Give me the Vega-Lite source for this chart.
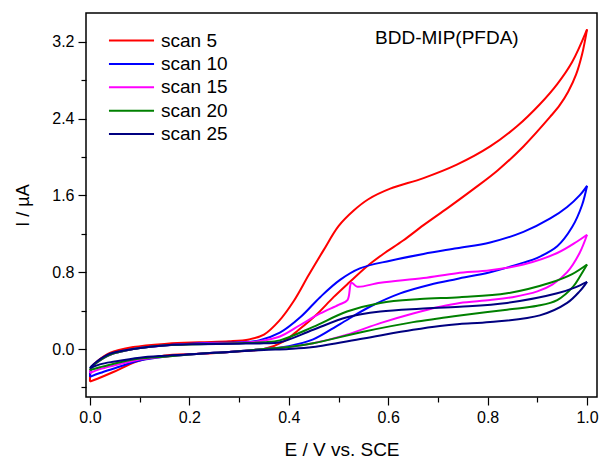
{
  "$schema": "https://vega.github.io/schema/vega-lite/v6.json",
  "width": 511,
  "height": 384,
  "autosize": {"type": "none"},
  "padding": {"left": 86, "top": 13, "right": 5, "bottom": 62},
  "background": "white",
  "config": {
    "view": {"stroke": "black", "strokeWidth": 1.5},
    "font": "Liberation Sans",
    "axis": {
      "grid": false,
      "domain": false,
      "tickColor": "black",
      "tickWidth": 1.2,
      "labelColor": "black",
      "titleColor": "black",
      "labelFont": "Liberation Sans",
      "titleFont": "Liberation Sans",
      "labelFontSize": 16,
      "titleFontSize": 18,
      "titleFontWeight": "normal",
      "labelPadding": 4
    },
    "legend": {
      "orient": "none",
      "legendX": 36,
      "legendY": 18,
      "symbolType": "M-4,0H4",
      "symbolSize": 127,
      "symbolStrokeWidth": 2,
      "labelFont": "Liberation Sans",
      "labelFontSize": 19,
      "labelColor": "black",
      "labelOffset": 20,
      "rowPadding": 3.4,
      "title": null
    }
  },
  "datasets": {
    "cv": [
      {"s":"scan 5","b":"f","i":0,"E":0.0,"I":-0.34},
      {"s":"scan 5","b":"f","i":1,"E":0.003,"I":-0.19},
      {"s":"scan 5","b":"f","i":2,"E":0.014,"I":-0.13},
      {"s":"scan 5","b":"f","i":3,"E":0.04,"I":-0.04},
      {"s":"scan 5","b":"f","i":4,"E":0.087,"I":0.02},
      {"s":"scan 5","b":"f","i":5,"E":0.155,"I":0.055},
      {"s":"scan 5","b":"f","i":6,"E":0.22,"I":0.07},
      {"s":"scan 5","b":"f","i":7,"E":0.28,"I":0.08},
      {"s":"scan 5","b":"f","i":8,"E":0.32,"I":0.1},
      {"s":"scan 5","b":"f","i":9,"E":0.35,"I":0.15},
      {"s":"scan 5","b":"f","i":10,"E":0.38,"I":0.29},
      {"s":"scan 5","b":"f","i":11,"E":0.41,"I":0.5},
      {"s":"scan 5","b":"f","i":12,"E":0.44,"I":0.77},
      {"s":"scan 5","b":"f","i":13,"E":0.47,"I":1.03},
      {"s":"scan 5","b":"f","i":14,"E":0.5,"I":1.28},
      {"s":"scan 5","b":"f","i":15,"E":0.53,"I":1.44},
      {"s":"scan 5","b":"f","i":16,"E":0.56,"I":1.56},
      {"s":"scan 5","b":"f","i":17,"E":0.604,"I":1.67},
      {"s":"scan 5","b":"f","i":18,"E":0.671,"I":1.78},
      {"s":"scan 5","b":"f","i":19,"E":0.738,"I":1.92},
      {"s":"scan 5","b":"f","i":20,"E":0.805,"I":2.11},
      {"s":"scan 5","b":"f","i":21,"E":0.859,"I":2.32},
      {"s":"scan 5","b":"f","i":22,"E":0.905,"I":2.55},
      {"s":"scan 5","b":"f","i":23,"E":0.94,"I":2.76},
      {"s":"scan 5","b":"f","i":24,"E":0.97,"I":2.99},
      {"s":"scan 5","b":"f","i":25,"E":1.0,"I":3.33},
      {"s":"scan 5","b":"r","i":0,"E":1.0,"I":3.33},
      {"s":"scan 5","b":"r","i":1,"E":0.99,"I":3.07},
      {"s":"scan 5","b":"r","i":2,"E":0.978,"I":2.86},
      {"s":"scan 5","b":"r","i":3,"E":0.962,"I":2.68},
      {"s":"scan 5","b":"r","i":4,"E":0.945,"I":2.54},
      {"s":"scan 5","b":"r","i":5,"E":0.926,"I":2.42},
      {"s":"scan 5","b":"r","i":6,"E":0.872,"I":2.11},
      {"s":"scan 5","b":"r","i":7,"E":0.82,"I":1.86},
      {"s":"scan 5","b":"r","i":8,"E":0.77,"I":1.66},
      {"s":"scan 5","b":"r","i":9,"E":0.72,"I":1.47},
      {"s":"scan 5","b":"r","i":10,"E":0.671,"I":1.29},
      {"s":"scan 5","b":"r","i":11,"E":0.63,"I":1.13},
      {"s":"scan 5","b":"r","i":12,"E":0.59,"I":0.99},
      {"s":"scan 5","b":"r","i":13,"E":0.557,"I":0.86},
      {"s":"scan 5","b":"r","i":14,"E":0.523,"I":0.7},
      {"s":"scan 5","b":"r","i":15,"E":0.49,"I":0.54},
      {"s":"scan 5","b":"r","i":16,"E":0.456,"I":0.36},
      {"s":"scan 5","b":"r","i":17,"E":0.42,"I":0.2},
      {"s":"scan 5","b":"r","i":18,"E":0.39,"I":0.08},
      {"s":"scan 5","b":"r","i":19,"E":0.35,"I":0.0},
      {"s":"scan 5","b":"r","i":20,"E":0.28,"I":-0.03},
      {"s":"scan 5","b":"r","i":21,"E":0.22,"I":-0.05},
      {"s":"scan 5","b":"r","i":22,"E":0.147,"I":-0.07},
      {"s":"scan 5","b":"r","i":23,"E":0.094,"I":-0.13},
      {"s":"scan 5","b":"r","i":24,"E":0.047,"I":-0.24},
      {"s":"scan 5","b":"r","i":25,"E":0.015,"I":-0.31},
      {"s":"scan 5","b":"r","i":26,"E":0.0,"I":-0.34},

      {"s":"scan 10","b":"f","i":0,"E":0.0,"I":-0.29},
      {"s":"scan 10","b":"f","i":1,"E":0.003,"I":-0.2},
      {"s":"scan 10","b":"f","i":2,"E":0.014,"I":-0.14},
      {"s":"scan 10","b":"f","i":3,"E":0.04,"I":-0.06},
      {"s":"scan 10","b":"f","i":4,"E":0.087,"I":0.0},
      {"s":"scan 10","b":"f","i":5,"E":0.155,"I":0.04},
      {"s":"scan 10","b":"f","i":6,"E":0.22,"I":0.06},
      {"s":"scan 10","b":"f","i":7,"E":0.3,"I":0.07},
      {"s":"scan 10","b":"f","i":8,"E":0.34,"I":0.09},
      {"s":"scan 10","b":"f","i":9,"E":0.382,"I":0.17},
      {"s":"scan 10","b":"f","i":10,"E":0.423,"I":0.33},
      {"s":"scan 10","b":"f","i":11,"E":0.463,"I":0.54},
      {"s":"scan 10","b":"f","i":12,"E":0.503,"I":0.72},
      {"s":"scan 10","b":"f","i":13,"E":0.543,"I":0.84},
      {"s":"scan 10","b":"f","i":14,"E":0.604,"I":0.92},
      {"s":"scan 10","b":"f","i":15,"E":0.671,"I":0.99},
      {"s":"scan 10","b":"f","i":16,"E":0.738,"I":1.05},
      {"s":"scan 10","b":"f","i":17,"E":0.805,"I":1.11},
      {"s":"scan 10","b":"f","i":18,"E":0.872,"I":1.22},
      {"s":"scan 10","b":"f","i":19,"E":0.926,"I":1.36},
      {"s":"scan 10","b":"f","i":20,"E":0.96,"I":1.48},
      {"s":"scan 10","b":"f","i":21,"E":0.985,"I":1.6},
      {"s":"scan 10","b":"f","i":22,"E":1.0,"I":1.7},
      {"s":"scan 10","b":"r","i":0,"E":1.0,"I":1.7},
      {"s":"scan 10","b":"r","i":1,"E":0.99,"I":1.5},
      {"s":"scan 10","b":"r","i":2,"E":0.97,"I":1.27},
      {"s":"scan 10","b":"r","i":3,"E":0.94,"I":1.07},
      {"s":"scan 10","b":"r","i":4,"E":0.9,"I":0.95},
      {"s":"scan 10","b":"r","i":5,"E":0.872,"I":0.9},
      {"s":"scan 10","b":"r","i":6,"E":0.805,"I":0.8},
      {"s":"scan 10","b":"r","i":7,"E":0.738,"I":0.73},
      {"s":"scan 10","b":"r","i":8,"E":0.684,"I":0.67},
      {"s":"scan 10","b":"r","i":9,"E":0.624,"I":0.58},
      {"s":"scan 10","b":"r","i":10,"E":0.563,"I":0.44},
      {"s":"scan 10","b":"r","i":11,"E":0.503,"I":0.26},
      {"s":"scan 10","b":"r","i":12,"E":0.449,"I":0.1},
      {"s":"scan 10","b":"r","i":13,"E":0.4,"I":0.03},
      {"s":"scan 10","b":"r","i":14,"E":0.35,"I":0.0},
      {"s":"scan 10","b":"r","i":15,"E":0.28,"I":-0.03},
      {"s":"scan 10","b":"r","i":16,"E":0.22,"I":-0.05},
      {"s":"scan 10","b":"r","i":17,"E":0.15,"I":-0.08},
      {"s":"scan 10","b":"r","i":18,"E":0.1,"I":-0.12},
      {"s":"scan 10","b":"r","i":19,"E":0.05,"I":-0.2},
      {"s":"scan 10","b":"r","i":20,"E":0.02,"I":-0.25},
      {"s":"scan 10","b":"r","i":21,"E":0.0,"I":-0.29},

      {"s":"scan 15","b":"f","i":0,"E":0.0,"I":-0.25},
      {"s":"scan 15","b":"f","i":1,"E":0.003,"I":-0.19},
      {"s":"scan 15","b":"f","i":2,"E":0.014,"I":-0.14},
      {"s":"scan 15","b":"f","i":3,"E":0.04,"I":-0.06},
      {"s":"scan 15","b":"f","i":4,"E":0.087,"I":0.0},
      {"s":"scan 15","b":"f","i":5,"E":0.155,"I":0.04},
      {"s":"scan 15","b":"f","i":6,"E":0.22,"I":0.055},
      {"s":"scan 15","b":"f","i":7,"E":0.3,"I":0.065},
      {"s":"scan 15","b":"f","i":8,"E":0.34,"I":0.08},
      {"s":"scan 15","b":"f","i":9,"E":0.382,"I":0.13},
      {"s":"scan 15","b":"f","i":10,"E":0.423,"I":0.25},
      {"s":"scan 15","b":"f","i":11,"E":0.463,"I":0.37},
      {"s":"scan 15","b":"f","i":12,"E":0.5,"I":0.46},
      {"s":"scan 15","b":"f","i":13,"E":0.518,"I":0.51},
      {"s":"scan 15","b":"f","i":14,"E":0.526,"I":0.69},
      {"s":"scan 15","b":"f","i":15,"E":0.537,"I":0.65},
      {"s":"scan 15","b":"f","i":16,"E":0.584,"I":0.69},
      {"s":"scan 15","b":"f","i":17,"E":0.671,"I":0.74},
      {"s":"scan 15","b":"f","i":18,"E":0.738,"I":0.79},
      {"s":"scan 15","b":"f","i":19,"E":0.805,"I":0.82},
      {"s":"scan 15","b":"f","i":20,"E":0.872,"I":0.88},
      {"s":"scan 15","b":"f","i":21,"E":0.94,"I":1.0},
      {"s":"scan 15","b":"f","i":22,"E":0.98,"I":1.12},
      {"s":"scan 15","b":"f","i":23,"E":1.0,"I":1.19},
      {"s":"scan 15","b":"r","i":0,"E":1.0,"I":1.19},
      {"s":"scan 15","b":"r","i":1,"E":0.985,"I":1.0},
      {"s":"scan 15","b":"r","i":2,"E":0.96,"I":0.8},
      {"s":"scan 15","b":"r","i":3,"E":0.93,"I":0.67},
      {"s":"scan 15","b":"r","i":4,"E":0.9,"I":0.6},
      {"s":"scan 15","b":"r","i":5,"E":0.85,"I":0.54},
      {"s":"scan 15","b":"r","i":6,"E":0.805,"I":0.51},
      {"s":"scan 15","b":"r","i":7,"E":0.744,"I":0.48},
      {"s":"scan 15","b":"r","i":8,"E":0.704,"I":0.44},
      {"s":"scan 15","b":"r","i":9,"E":0.65,"I":0.37},
      {"s":"scan 15","b":"r","i":10,"E":0.584,"I":0.27},
      {"s":"scan 15","b":"r","i":11,"E":0.517,"I":0.15},
      {"s":"scan 15","b":"r","i":12,"E":0.449,"I":0.06},
      {"s":"scan 15","b":"r","i":13,"E":0.4,"I":0.02},
      {"s":"scan 15","b":"r","i":14,"E":0.35,"I":0.0},
      {"s":"scan 15","b":"r","i":15,"E":0.28,"I":-0.03},
      {"s":"scan 15","b":"r","i":16,"E":0.22,"I":-0.05},
      {"s":"scan 15","b":"r","i":17,"E":0.15,"I":-0.08},
      {"s":"scan 15","b":"r","i":18,"E":0.1,"I":-0.11},
      {"s":"scan 15","b":"r","i":19,"E":0.05,"I":-0.17},
      {"s":"scan 15","b":"r","i":20,"E":0.02,"I":-0.21},
      {"s":"scan 15","b":"r","i":21,"E":0.0,"I":-0.25},

      {"s":"scan 20","b":"f","i":0,"E":0.0,"I":-0.22},
      {"s":"scan 20","b":"f","i":1,"E":0.003,"I":-0.19},
      {"s":"scan 20","b":"f","i":2,"E":0.014,"I":-0.14},
      {"s":"scan 20","b":"f","i":3,"E":0.04,"I":-0.06},
      {"s":"scan 20","b":"f","i":4,"E":0.087,"I":0.0},
      {"s":"scan 20","b":"f","i":5,"E":0.155,"I":0.04},
      {"s":"scan 20","b":"f","i":6,"E":0.22,"I":0.05},
      {"s":"scan 20","b":"f","i":7,"E":0.3,"I":0.06},
      {"s":"scan 20","b":"f","i":8,"E":0.35,"I":0.07},
      {"s":"scan 20","b":"f","i":9,"E":0.382,"I":0.09},
      {"s":"scan 20","b":"f","i":10,"E":0.449,"I":0.23},
      {"s":"scan 20","b":"f","i":11,"E":0.517,"I":0.39},
      {"s":"scan 20","b":"f","i":12,"E":0.584,"I":0.48},
      {"s":"scan 20","b":"f","i":13,"E":0.664,"I":0.52},
      {"s":"scan 20","b":"f","i":14,"E":0.744,"I":0.54},
      {"s":"scan 20","b":"f","i":15,"E":0.839,"I":0.58},
      {"s":"scan 20","b":"f","i":16,"E":0.926,"I":0.69},
      {"s":"scan 20","b":"f","i":17,"E":0.97,"I":0.78},
      {"s":"scan 20","b":"f","i":18,"E":1.0,"I":0.88},
      {"s":"scan 20","b":"r","i":0,"E":1.0,"I":0.88},
      {"s":"scan 20","b":"r","i":1,"E":0.985,"I":0.75},
      {"s":"scan 20","b":"r","i":2,"E":0.972,"I":0.65},
      {"s":"scan 20","b":"r","i":3,"E":0.94,"I":0.51},
      {"s":"scan 20","b":"r","i":4,"E":0.9,"I":0.45},
      {"s":"scan 20","b":"r","i":5,"E":0.839,"I":0.41},
      {"s":"scan 20","b":"r","i":6,"E":0.744,"I":0.35},
      {"s":"scan 20","b":"r","i":7,"E":0.704,"I":0.32},
      {"s":"scan 20","b":"r","i":8,"E":0.65,"I":0.28},
      {"s":"scan 20","b":"r","i":9,"E":0.55,"I":0.18},
      {"s":"scan 20","b":"r","i":10,"E":0.449,"I":0.06},
      {"s":"scan 20","b":"r","i":11,"E":0.4,"I":0.02},
      {"s":"scan 20","b":"r","i":12,"E":0.35,"I":0.0},
      {"s":"scan 20","b":"r","i":13,"E":0.28,"I":-0.03},
      {"s":"scan 20","b":"r","i":14,"E":0.22,"I":-0.05},
      {"s":"scan 20","b":"r","i":15,"E":0.15,"I":-0.08},
      {"s":"scan 20","b":"r","i":16,"E":0.1,"I":-0.1},
      {"s":"scan 20","b":"r","i":17,"E":0.05,"I":-0.15},
      {"s":"scan 20","b":"r","i":18,"E":0.02,"I":-0.19},
      {"s":"scan 20","b":"r","i":19,"E":0.0,"I":-0.22},

      {"s":"scan 25","b":"f","i":0,"E":0.0,"I":-0.2},
      {"s":"scan 25","b":"f","i":1,"E":0.003,"I":-0.18},
      {"s":"scan 25","b":"f","i":2,"E":0.014,"I":-0.13},
      {"s":"scan 25","b":"f","i":3,"E":0.04,"I":-0.05},
      {"s":"scan 25","b":"f","i":4,"E":0.087,"I":0.0},
      {"s":"scan 25","b":"f","i":5,"E":0.155,"I":0.04},
      {"s":"scan 25","b":"f","i":6,"E":0.22,"I":0.05},
      {"s":"scan 25","b":"f","i":7,"E":0.3,"I":0.055},
      {"s":"scan 25","b":"f","i":8,"E":0.35,"I":0.06},
      {"s":"scan 25","b":"f","i":9,"E":0.382,"I":0.07},
      {"s":"scan 25","b":"f","i":10,"E":0.449,"I":0.2},
      {"s":"scan 25","b":"f","i":11,"E":0.517,"I":0.33},
      {"s":"scan 25","b":"f","i":12,"E":0.584,"I":0.39},
      {"s":"scan 25","b":"f","i":13,"E":0.664,"I":0.42},
      {"s":"scan 25","b":"f","i":14,"E":0.744,"I":0.44},
      {"s":"scan 25","b":"f","i":15,"E":0.839,"I":0.48},
      {"s":"scan 25","b":"f","i":16,"E":0.94,"I":0.58},
      {"s":"scan 25","b":"f","i":17,"E":0.975,"I":0.64},
      {"s":"scan 25","b":"f","i":18,"E":1.0,"I":0.7},
      {"s":"scan 25","b":"r","i":0,"E":1.0,"I":0.7},
      {"s":"scan 25","b":"r","i":1,"E":0.985,"I":0.6},
      {"s":"scan 25","b":"r","i":2,"E":0.96,"I":0.48},
      {"s":"scan 25","b":"r","i":3,"E":0.905,"I":0.35},
      {"s":"scan 25","b":"r","i":4,"E":0.805,"I":0.28},
      {"s":"scan 25","b":"r","i":5,"E":0.744,"I":0.26},
      {"s":"scan 25","b":"r","i":6,"E":0.704,"I":0.24},
      {"s":"scan 25","b":"r","i":7,"E":0.65,"I":0.2},
      {"s":"scan 25","b":"r","i":8,"E":0.55,"I":0.11},
      {"s":"scan 25","b":"r","i":9,"E":0.449,"I":0.02},
      {"s":"scan 25","b":"r","i":10,"E":0.4,"I":0.0},
      {"s":"scan 25","b":"r","i":11,"E":0.35,"I":-0.01},
      {"s":"scan 25","b":"r","i":12,"E":0.28,"I":-0.03},
      {"s":"scan 25","b":"r","i":13,"E":0.22,"I":-0.05},
      {"s":"scan 25","b":"r","i":14,"E":0.15,"I":-0.07},
      {"s":"scan 25","b":"r","i":15,"E":0.1,"I":-0.09},
      {"s":"scan 25","b":"r","i":16,"E":0.05,"I":-0.13},
      {"s":"scan 25","b":"r","i":17,"E":0.02,"I":-0.16},
      {"s":"scan 25","b":"r","i":18,"E":0.0,"I":-0.2}
    ]
  },
  "layer": [
    {
      "data": {"name": "cv"},
      "mark": {"type": "line", "strokeWidth": 2, "interpolate": "catmull-rom", "clip": true},
      "encoding": {
        "x": {
          "field": "E", "type": "quantitative",
          "scale": {"domain": [-0.008, 1.02], "nice": false, "zero": false},
          "axis": {
            "title": "E / V vs. SCE",
            "titleFontSize": 19,
            "values": [0, 0.1, 0.2, 0.3, 0.4, 0.5, 0.6, 0.7, 0.8, 0.9, 1.0],
            "labelExpr": "round(datum.value*10) % 2 == 0 ? format(datum.value, '.1f') : ''",
            "tickSize": {"condition": {"test": "round(datum.value*10) % 2 == 0", "value": 8}, "value": 5},
            "titlePadding": 15
          }
        },
        "y": {
          "field": "I", "type": "quantitative",
          "scale": {"domain": [-0.5, 3.5], "nice": false, "zero": false},
          "axis": {
            "title": "I / µA",
            "values": [-0.4, 0, 0.4, 0.8, 1.2, 1.6, 2.0, 2.4, 2.8, 3.2],
            "labelExpr": "round(datum.value*10) % 8 == 0 ? format(datum.value, '.1f') : ''",
            "tickSize": {"condition": {"test": "round(datum.value*10) % 8 == 0", "value": 8}, "value": 5},
            "titlePadding": 19
          }
        },
        "color": {
          "field": "s", "type": "nominal",
          "scale": {
            "domain": ["scan 5", "scan 10", "scan 15", "scan 20", "scan 25"],
            "range": ["#FF0000", "#0000FF", "#FF00FF", "#008000", "#000080"]
          },
          "legend": {"title": null}
        },
        "detail": {"field": "b"},
        "order": {"field": "i", "type": "quantitative"}
      }
    },
    {
      "data": {"values": [{"t": "BDD-MIP(PFDA)"}]},
      "mark": {"type": "text", "font": "Liberation Sans", "fontSize": 19, "color": "black", "align": "center", "baseline": "middle"},
      "encoding": {
        "x": {"datum": 0.718},
        "y": {"datum": 3.24},
        "text": {"field": "t"}
      }
    }
  ]
}
